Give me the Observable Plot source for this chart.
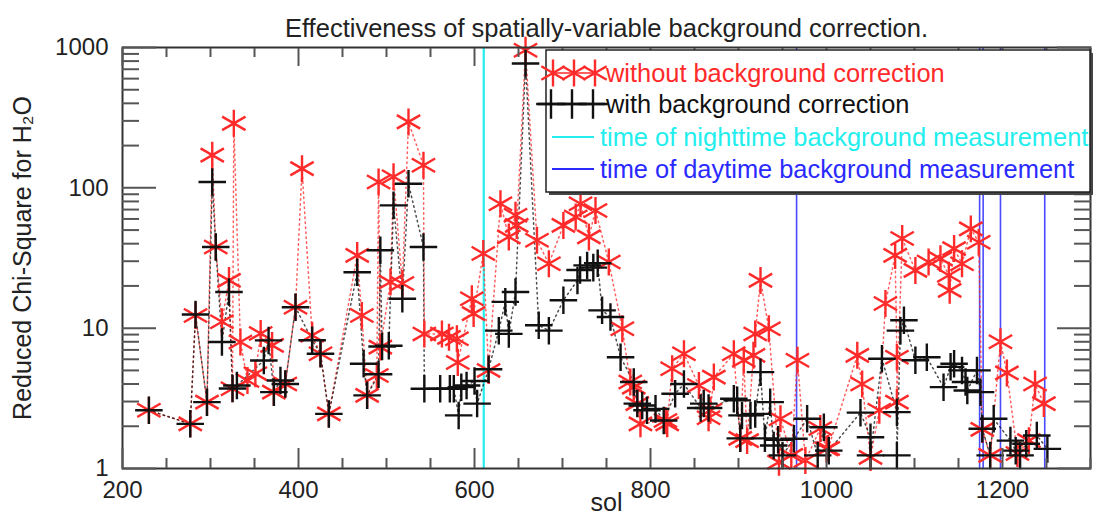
<!DOCTYPE html>
<html>
<head>
<meta charset="utf-8">
<script src="https://cdn.jsdelivr.net/npm/d3@7"></script>
<script src="https://cdn.jsdelivr.net/npm/@observablehq/plot@0.6"></script>
<style>
  html, body { margin: 0; padding: 0; background: #fff; }
  #chart svg { display: block; }
</style>
</head>
<body>
<div id="chart"></div>
<script>
// ---- data ----
const withoutSol = [230,277,283,296,302,306,313,321,325,326.5,334,342,351,357,370,372,385,396.6,404,415.5,425,434.5,466.7,472,478,489,491,493,504.5,508,518,525,542,543,563,571,580,581,597,599,610,616,629.5,639,646.6,648,658,671,684.5,701,715,720.5,730,737.5,752.6,768,777,781,785,788.6,817,819,824.6,838,855,866,868,872,894.7,902,906,909.8,917,919,925,934.5,946,947.7,960,967,976,993,1000,1002,1035,1040.5,1050,1060,1067,1078,1080,1080,1086,1101,1116,1129.5,1139,1140,1145,1154,1164,1173,1177,1186,1197.7,1205,1217,1230,1237,1247];
const withoutChi = [2.6,2.08,12.3,2.97,171,37.9,11.1,21.9,3.7,288,7.96,4.24,4.74,9.17,7.54,3.5,4.0,14.1,137,8.89,6.58,2.45,33,12.3,3.32,4.6,110,7.33,21.3,120,20.8,295,145,9.1,9.1,8.6,8.4,5.7,16.2,12.7,34,5.0,77,44.7,63.8,54,957,42.3,28.8,54,62,77,44.7,69,29.6,9.9,4.13,3.8,2.9,2.08,2.2,2.08,5.14,6.58,3.9,2.3,2.6,4.48,6.58,1.64,5.9,1.58,6.4,9.1,21.9,9.9,1.11,2.26,1.24,5.9,1.14,1.93,1.38,1.39,6.4,4.0,1.2,2.6,15,33,6.2,2.97,43.5,25.8,29.6,31.3,23.8,18.6,36.9,28.8,51,41,1.9,1.24,8.0,4.8,1.28,1.58,4.0,2.9];

const withSol = [230,277,283,296,302,306,313,321,325,330,360.6,366,372,379.5,385,396.6,415.5,425,434.5,466.7,474,478,491,493,495,502.6,508,518,525,542,543,561,572,576.5,582,585,591,600,603,616,627.6,635,639,646.6,658,673,684.5,701,717,720,728,735,740,745,754.5,766,781,785,790.6,796,805.7,815,828,838,857,860.5,866,894.7,898.5,902,904,913.6,919,925,930,936,940,945,950,963,978,990,997,1002.6,1038.6,1050,1050,1063,1080,1080,1084,1088,1101,1114,1133,1141,1145,1154,1158,1160,1171,1175,1177,1186,1190,1209,1215,1220,1227,1239,1251];
const withChi = [2.6,2.08,12.5,2.97,110,37.9,7.96,18.1,3.72,3.9,5.89,8.18,3.5,4.24,4.0,14.1,8.2,6.58,2.45,25,5.58,3.32,4.7,35.9,7.4,7.5,75,16.2,107,37.9,3.7,3.7,3.7,3.7,2.39,3.8,3.9,4.2,2.9,5.1,9.6,15.4,9.1,18.1,770,10.5,9.6,15.8,21.9,26,28,27,29,13.4,12,6.2,4.13,2.9,2.81,2.6,2.66,2.2,3.41,4.0,2.7,2.9,2.7,3.14,3.06,1.64,2.39,2.39,2.45,4.86,1.64,2.97,1.46,1.6,1.24,1.63,2.26,1.24,1.97,1.34,2.5,1.67,1.24,6.06,2.52,1.24,9.6,11.4,5.9,6.2,3.8,5.3,5.58,5.0,4.13,3.6,5.0,3.5,1.92,1.24,2.26,1.58,1.34,1.24,1.5,1.72,1.38];

const nightSols = [610.5];
const daySols = [966, 1174, 1178, 1197.7, 1248];

const xMajor = [200, 400, 600, 800, 1000, 1200];
const xMinor = d3.range(200, 1301, 50).filter(v => v % 200 !== 0);
const yMajor = [1, 10, 100, 1000];
const yMinor = [1, 10, 100].flatMap(d => [2,3,4,5,6,7,8,9].map(k => k * d));

const titleText = "Effectiveness of spatially-variable background correction.";
const xLabel = "sol";
const yLabel = "Reduced Chi-Square for H\u2082O";
const legendItems = [
  {label: "without background correction", color: "#ff2a2a", kind: "asterisk"},
  {label: "with background correction", color: "#111111", kind: "plus"},
  {label: "time of nighttime background measurement", color: "#22eeee", kind: "line"},
  {label: "time of daytime background measurement", color: "#2a2aff", kind: "line"}
];

// ---- build tables ----
const withoutRows = withoutSol.map((s, i) => ({sol: s, chi: withoutChi[i]}));
const withRows = withSol.map((s, i) => ({sol: s, chi: withChi[i]}));

const FONT = "'Liberation Sans', Arial, Helvetica, sans-serif";
const RED = legendItems[0].color, BLACK = legendItems[1].color;
const CYAN = legendItems[2].color, BLUE = legendItems[3].color;
const tickColor = "#555";
const STAR_R = 12.8, PLUS_R = 8.9;

const chart = Plot.plot({
  width: 1096,
  height: 523,
  marginLeft: 122,
  marginRight: 6,
  marginTop: 47,
  marginBottom: 55,
  style: {fontFamily: FONT, background: "#fff", color: "#222"},
  x: {domain: [200, 1300], axis: null},
  y: {type: "log", domain: [1, 1000], axis: null},
  marks: [
    Plot.ruleX(nightSols, {x: d => d, stroke: CYAN, strokeWidth: 2.2}),
    Plot.ruleX(daySols, {x: d => d, stroke: BLUE, strokeWidth: 1.6, strokeOpacity: 0.85}),
    Plot.line(withoutRows, {x: "sol", y: "chi", stroke: RED, strokeWidth: 1.5, strokeDasharray: "1.5,3.5", strokeOpacity: 0.75}),
    Plot.line(withRows, {x: "sol", y: "chi", stroke: BLACK, strokeWidth: 1.5, strokeDasharray: "1.5,3.5", strokeOpacity: 0.75}),
    Plot.dot(withoutRows, {x: "sol", y: "chi", symbol: "asterisk", r: STAR_R, stroke: RED, strokeWidth: 2.4}),
    Plot.dot(withRows, {x: "sol", y: "chi", symbol: "plus", r: PLUS_R, stroke: BLACK, strokeWidth: 2.4}),
    Plot.frame({stroke: "#333", strokeWidth: 2}),
    // inward ticks on all four sides
    Plot.axisX(xMajor, {anchor: "bottom", tickSize: -20, fill: "none", stroke: tickColor, strokeWidth: 2}),
    Plot.axisX(xMinor, {anchor: "bottom", tickSize: -10, fill: "none", stroke: tickColor, strokeWidth: 2}),
    Plot.axisX(xMajor, {anchor: "top", tickSize: -18, fill: "none", stroke: tickColor, strokeWidth: 2}),
    Plot.axisX(xMinor, {anchor: "top", tickSize: -9, fill: "none", stroke: tickColor, strokeWidth: 2}),
    Plot.axisY(yMajor, {anchor: "left", tickSize: -34, fill: "none", stroke: tickColor, strokeWidth: 2}),
    Plot.axisY(yMinor, {anchor: "left", tickSize: -17, fill: "none", stroke: tickColor, strokeWidth: 2}),
    Plot.axisY(yMajor, {anchor: "right", tickSize: -34, fill: "none", stroke: tickColor, strokeWidth: 2}),
    Plot.axisY(yMinor, {anchor: "right", tickSize: -17, fill: "none", stroke: tickColor, strokeWidth: 2}),
    // tick labels
    Plot.axisX(xMajor, {anchor: "bottom", tickSize: 0, tickPadding: 12, fontSize: 24, label: null, tickFormat: d => String(d), fill: "#222"}),
    Plot.axisY(yMajor, {anchor: "left", tickSize: 0, tickPadding: 14, fontSize: 24, label: null, tickFormat: d => String(d), fill: "#222"}),
    // titles
    Plot.text([titleText], {text: d => d, frameAnchor: "top", dy: -29, fontSize: 25.5, fill: "#222"}),
    Plot.text([xLabel], {text: d => d, frameAnchor: "bottom", dy: 42, fontSize: 25, fill: "#222"}),
    Plot.text([yLabel], {text: d => d, frameAnchor: "left", textAnchor: "middle", dx: -100, rotate: -90, fontSize: 25, fill: "#222"})
  ]
});

// ---- legend overlay (inside the same svg) ----
const svg = d3.select(chart);
const lg = svg.append("g").attr("font-family", FONT).attr("font-size", 25.4).attr("text-anchor", "start");
const bx = 546, by = 50, bw = 544, bh = 142;
lg.append("rect").attr("x", bx + 3).attr("y", by + 3).attr("width", bw).attr("height", bh).attr("fill", "#444");
lg.append("rect").attr("x", bx).attr("y", by).attr("width", bw).attr("height", bh).attr("fill", "#fff").attr("stroke", "#222").attr("stroke-width", 1.5);
const rowY = [73, 104, 137, 169];
legendItems.forEach((it, i) => {
  const y = rowY[i];
  const g = lg.append("g");
  if (it.kind === "asterisk") {
    g.append("line").attr("x1", 553).attr("x2", 595).attr("y1", y).attr("y2", y).attr("stroke", it.color).attr("stroke-width", 1.5);
    const sym = d3.symbol(d3.symbolAsterisk, STAR_R * STAR_R * Math.PI);
    [553, 574, 595].forEach(cx => g.append("path").attr("d", sym()).attr("transform", `translate(${cx},${y})`).attr("fill", "none").attr("stroke", it.color).attr("stroke-width", 2.4));
  } else if (it.kind === "plus") {
    g.append("line").attr("x1", 538).attr("x2", 605).attr("y1", y).attr("y2", y).attr("stroke", it.color).attr("stroke-width", 2.4);
    const sym = d3.symbol(d3.symbolPlus, 9.6 * 9.6 * Math.PI);
    [551, 572, 593].forEach(cx => g.append("path").attr("d", sym()).attr("transform", `translate(${cx},${y})`).attr("fill", "none").attr("stroke", it.color).attr("stroke-width", 2.4));
  } else {
    g.append("line").attr("x1", 552).attr("x2", 594).attr("y1", y).attr("y2", y).attr("stroke", it.color).attr("stroke-width", 2);
  }
  g.append("text").attr("x", it.kind === "line" ? 600 : 606).attr("y", y).attr("dy", "0.36em")
    .attr("text-anchor", "start").attr("fill", it.color).text(it.label);
});

document.getElementById("chart").appendChild(chart);
</script>
</body>
</html>
